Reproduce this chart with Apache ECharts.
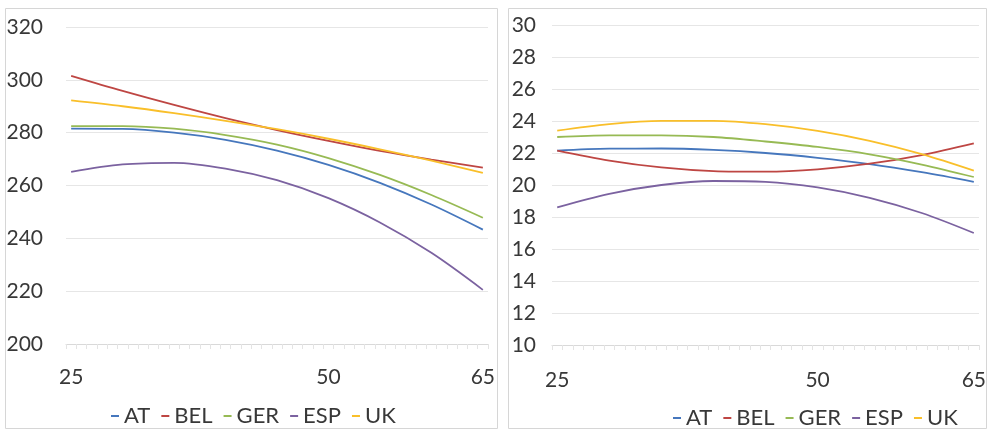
<!DOCTYPE html>
<html><head><meta charset="utf-8">
<script src="https://cdn.jsdelivr.net/npm/echarts@6/dist/echarts.min.js"></script>
<style>html,body{margin:0;padding:0;background:#fff}#c{width:989px;height:432px}</style>
</head><body><div id="c"></div>
<script>
// ---- data ----
const ages = [25, 30, 35, 40, 45, 50, 55, 60, 65];
const seriesNames = ['AT', 'BEL', 'GER', 'ESP', 'UK'];
const xTickLabels = [25, 50, 65];

// left panel
const leftAT  = [281.5, 281.4, 280.0, 277.3, 273.2, 267.8, 261.0, 252.8, 243.3];
const leftBEL = [301.5, 295.8, 290.5, 285.5, 281.0, 276.9, 273.1, 269.8, 266.8];
const leftGER = [282.5, 282.5, 281.5, 279.1, 275.5, 270.4, 264.0, 256.4, 247.8];
const leftESP = [265.2, 268.0, 268.6, 266.4, 262.0, 255.2, 246.0, 234.5, 220.5];
const leftUK  = [292.2, 290.0, 287.4, 284.5, 281.3, 277.7, 273.7, 269.4, 264.8];

// right panel
const rightAT  = [22.15, 22.27, 22.28, 22.19, 22.00, 21.70, 21.31, 20.80, 20.20];
const rightBEL = [22.15, 21.53, 21.10, 20.87, 20.83, 20.98, 21.33, 21.87, 22.60];
const rightGER = [23.00, 23.10, 23.10, 23.00, 22.72, 22.38, 21.92, 21.28, 20.50];
const rightESP = [18.60, 19.45, 20.00, 20.25, 20.20, 19.85, 19.20, 18.25, 17.00];
const rightUK  = [23.40, 23.81, 24.01, 24.01, 23.80, 23.38, 22.76, 21.93, 20.90];

const colors = {AT: '#4677bd', BEL: '#be4643', GER: '#97ba54', ESP: '#7b62a0', UK: '#f9bf2a'};

const leftData = {AT: leftAT, BEL: leftBEL, GER: leftGER, ESP: leftESP, UK: leftUK};
const rightData = {AT: rightAT, BEL: rightBEL, GER: rightGER, ESP: rightESP, UK: rightUK};

const FONT = 'Lato';
const TXT = '#383838';

// category-boundary tick positions along the x axis (one per age step)
const xTickPositions = [];
for (let a = 24.5; a <= 65.5; a += 1) xTickPositions.push(a);

function mkSeries(dataMap, idx) {
  return seriesNames.map(n => ({
    name: n, type: 'line', xAxisIndex: idx, yAxisIndex: idx,
    data: ages.map((a, i) => [a, dataMap[n][i]]),
    smooth: 0.33, showSymbol: false, symbol: 'none',
    lineStyle: {color: colors[n], width: 1.8},
    itemStyle: {color: colors[n]},
    animation: false
  }));
}

function xAxisCfg(idx, margin) {
  return {
    type: 'value', gridIndex: idx, min: 24.5, max: 65.5,
    axisLine: {show: true, lineStyle: {color: '#d9d9d9'}},
    axisTick: {show: true, customValues: xTickPositions, length: 5, lineStyle: {color: '#e4e4e4'}},
    splitLine: {show: false},
    axisLabel: {customValues: xTickLabels, fontFamily: FONT, fontSize: 21, color: TXT, margin: margin}
  };
}
function yAxisCfg(idx, min, max, interval, margin) {
  return {
    type: 'value', gridIndex: idx, min: min, max: max, interval: interval,
    axisLine: {show: false}, axisTick: {show: false},
    splitLine: {show: true, lineStyle: {color: '#e6e6e6', width: 1}},
    axisLabel: {fontFamily: FONT, fontSize: 21, color: TXT, margin: margin}
  };
}

const legendBase = {
  data: seriesNames, icon: 'rect', itemWidth: 8, itemHeight: 2, itemGap: 11,
  textStyle: {fontFamily: FONT, fontSize: 22, color: TXT},
  selectedMode: false
};

const chart = echarts.init(document.getElementById('c'), null, {renderer: 'canvas'});
chart.setOption({
  backgroundColor: '#fff',
  animation: false,
  color: seriesNames.map(n => colors[n]),
  graphic: [
    {type: 'rect', shape: {x: 5.5, y: 8.5, width: 492, height: 420}, style: {fill: 'none', stroke: '#d6d6d6', lineWidth: 1}, silent: true},
    {type: 'rect', shape: {x: 508.5, y: 8.5, width: 478, height: 420}, style: {fill: 'none', stroke: '#d6d6d6', lineWidth: 1}, silent: true}
  ],
  grid: [
    {left: 66, top: 27, width: 422, height: 317},
    {left: 552, top: 25, width: 431, height: 320}
  ],
  xAxis: [xAxisCfg(0, 23), xAxisCfg(1, 25)],
  yAxis: [yAxisCfg(0, 200, 320, 20, 23), yAxisCfg(1, 10, 30, 2, 16)],
  legend: [
    Object.assign({}, legendBase, {left: 106, top: 400}),
    Object.assign({}, legendBase, {left: 668, top: 402})
  ],
  series: mkSeries(leftData, 0).concat(mkSeries(rightData, 1))
});
</script>
</body></html>
